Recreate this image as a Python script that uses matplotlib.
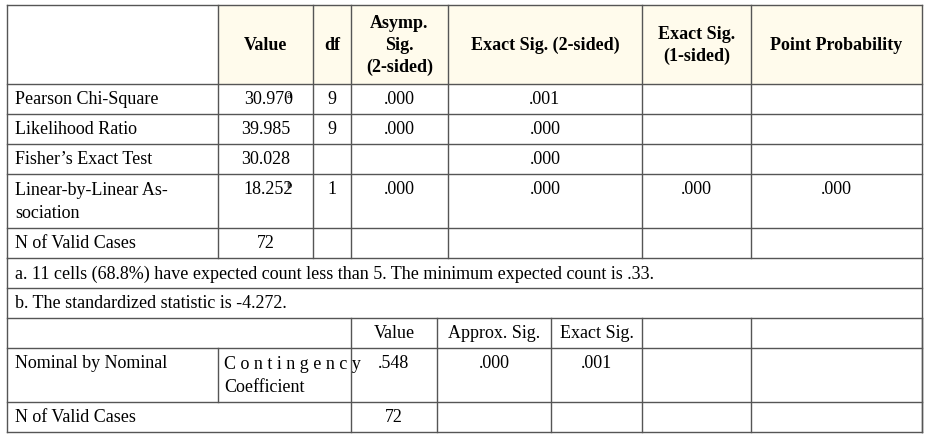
import matplotlib.pyplot as plt

header = ["Value", "df", "Asymp.\nSig.\n(2-sided)", "Exact Sig. (2-sided)",
          "Exact Sig.\n(1-sided)", "Point Probability"]
row_labels = ["Pearson Chi-Square", "Likelihood Ratio", "Fisher\u2019s Exact Test",
              "Linear-by-Linear As-\nsociation", "N of Valid Cases"]
values = ["30.970", "39.985", "30.028", "18.252", "72"]
value_notes = ["a", "", "", "b", ""]
dfs = ["9", "9", "", "1", ""]
asymp = [".000", ".000", "", ".000", ""]
exact2 = [".001", ".000", ".000", ".000", ""]
exact1 = ["", "", "", ".000", ""]
point_prob = ["", "", "", ".000", ""]
footnotes = ["a. 11 cells (68.8%) have expected count less than 5. The minimum expected count is .33.",
             "b. The standardized statistic is -4.272."]
sym_header = ["Value", "Approx. Sig.", "Exact Sig."]
sym_label = ["Nominal by Nominal", "C o n t i n g e n c y\nCoefficient"]
sym_values = [".548", ".000", ".001"]
sym_n = "72"

plt.rcParams['font.family'] = ['Liberation Serif', 'DejaVu Serif']
fig = plt.figure(figsize=(9.27, 4.38), dpi=100)
ax = fig.add_axes([0, 0, 1, 1])
ax.set_xlim(0, 927)
ax.set_ylim(438, 0)
ax.axis('off')

lc = '#555555'
lw = 1.0
fs = 13

cols = [7, 218, 313, 351, 448, 642, 751, 922]
rows = [5, 84, 114, 144, 174, 228, 258, 288, 318, 348, 402, 432]
lcols = [7, 218, 351, 437, 551, 642, 751, 922]

def hline(y, x0=7, x1=922):
    ax.plot([x0, x1], [y, y], color=lc, lw=lw)

def vline(x, y0, y1):
    ax.plot([x, x], [y0, y1], color=lc, lw=lw)

# header background
ax.fill_between([218, 922], rows[0], rows[1], color='#fffbec', zorder=0)

for y in rows:
    hline(y)
for x in cols:
    vline(x, rows[0], rows[6])
vline(7, rows[6], rows[-1])
vline(922, rows[6], rows[-1])
for x in lcols[2:]:
    vline(x, rows[8], rows[-1])
vline(218, rows[9], rows[10])

# header text
for i, h in enumerate(header):
    cx = (cols[i + 1] + cols[i + 2]) / 2
    ax.text(cx, (rows[0] + rows[1]) / 2 + 1, h, ha='center', va='center',
            fontsize=fs, fontweight='bold', linespacing=1.4)

# body
for r in range(5):
    y0, y1 = rows[r + 1], rows[r + 2]
    ty = y0 + 16
    ax.text(15, ty if r != 3 else (y0 + y1) / 2 + 1, row_labels[r], ha='left',
            va='center', fontsize=fs, linespacing=1.5)
    for i, v in enumerate([values[r], dfs[r], asymp[r], exact2[r], exact1[r], point_prob[r]]):
        cx = (cols[i + 1] + cols[i + 2]) / 2
        if i == 0 and value_notes[r]:
            ax.text(cx + 3, ty, v, ha='center', va='center', fontsize=fs)
            ax.text(cx + 21, ty - 5, value_notes[r], ha='left', va='center', fontsize=7.5)
        else:
            ax.text(cx, ty, v, ha='center', va='center', fontsize=fs)

for k, f in enumerate(footnotes):
    ax.text(15, (rows[6 + k] + rows[7 + k]) / 2 + 1, f, ha='left', va='center', fontsize=fs)

for i, h in enumerate(sym_header):
    ax.text((lcols[i + 2] + lcols[i + 3]) / 2, (rows[8] + rows[9]) / 2 + 1, h,
            ha='center', va='center', fontsize=fs)
ax.text(15, rows[9] + 16, sym_label[0], ha='left', va='center', fontsize=fs)
ax.text(224, (rows[9] + rows[10]) / 2 + 1, sym_label[1], ha='left', va='center',
        fontsize=fs, linespacing=1.5)
for i, v in enumerate(sym_values):
    ax.text((lcols[i + 2] + lcols[i + 3]) / 2, rows[9] + 16, v,
            ha='center', va='center', fontsize=fs)
ax.text(15, (rows[10] + rows[11]) / 2 + 1, "N of Valid Cases", ha='left', va='center', fontsize=fs)
ax.text((lcols[2] + lcols[3]) / 2, (rows[10] + rows[11]) / 2 + 1, sym_n,
        ha='center', va='center', fontsize=fs)

fig.savefig('out.png', dpi=100)
